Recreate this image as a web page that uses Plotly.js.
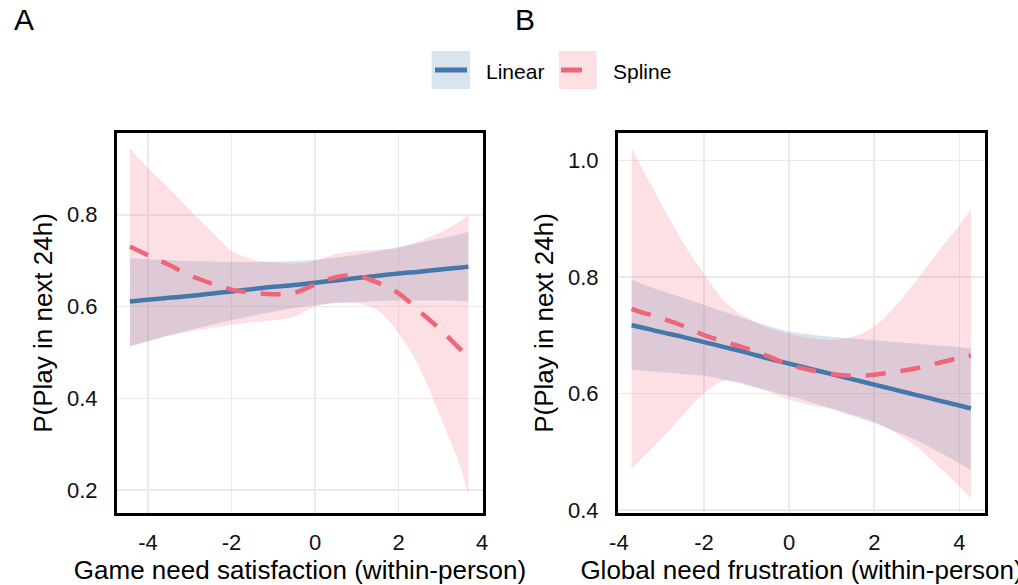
<!DOCTYPE html>
<html><head><meta charset="utf-8">
<script src="https://cdn.plot.ly/plotly-3.0.1.min.js"></script>
<style>html,body{margin:0;padding:0;background:#fff;} #chart{width:1018px;height:585px;}</style>
</head><body><div id="chart"></div>
<script>
// ---------- Panel A: Game need satisfaction ----------
const xA = [-4.43,-4,-3.5,-3,-2.5,-2,-1.5,-1,-0.5,0,0.5,1,1.5,2,2.5,3,3.5,3.67];
const linA      = [0.611,0.615,0.619,0.623,0.628,0.633,0.638,0.643,0.647,0.652,0.657,0.662,0.667,0.672,0.676,0.681,0.685,0.687];
const linA_hi   = [0.705,0.703,0.701,0.699,0.698,0.697,0.697,0.697,0.699,0.702,0.707,0.713,0.721,0.730,0.739,0.748,0.758,0.763];
const linA_lo   = [0.513,0.524,0.537,0.549,0.560,0.570,0.580,0.589,0.597,0.603,0.607,0.610,0.612,0.613,0.613,0.613,0.612,0.611];
const splA      = [0.731,0.712,0.691,0.668,0.651,0.637,0.630,0.627,0.630,0.648,0.664,0.667,0.652,0.629,0.590,0.550,0.505,0.491];
const splA_hi   = [0.945,0.902,0.858,0.810,0.765,0.722,0.703,0.697,0.694,0.700,0.715,0.721,0.724,0.727,0.742,0.762,0.787,0.800];
const splA_lo   = [0.515,0.525,0.537,0.546,0.553,0.560,0.566,0.570,0.578,0.600,0.609,0.607,0.592,0.542,0.467,0.360,0.245,0.186];

// ---------- Panel B: Global need frustration ----------
const xB = [-3.7,-3.5,-3,-2.5,-2,-1.5,-1,-0.5,0,0.5,1,1.5,2,2.5,3,3.5,4,4.27];
const linB      = [0.717,0.714,0.705,0.697,0.688,0.679,0.670,0.660,0.651,0.642,0.633,0.624,0.615,0.606,0.597,0.588,0.579,0.574];
const linB_hi   = [0.795,0.789,0.776,0.764,0.752,0.739,0.727,0.716,0.706,0.701,0.697,0.694,0.691,0.688,0.685,0.682,0.679,0.677];
const linB_lo   = [0.640,0.639,0.636,0.633,0.630,0.623,0.614,0.605,0.596,0.585,0.573,0.561,0.549,0.535,0.519,0.500,0.480,0.468];
const splB      = [0.745,0.740,0.729,0.716,0.700,0.688,0.677,0.664,0.649,0.640,0.633,0.630,0.632,0.637,0.643,0.652,0.661,0.665];
const splB_hi   = [1.021,0.993,0.925,0.860,0.805,0.757,0.730,0.713,0.702,0.695,0.692,0.697,0.715,0.750,0.795,0.843,0.889,0.915];
const splB_lo   = [0.470,0.485,0.522,0.562,0.600,0.622,0.616,0.603,0.589,0.580,0.574,0.563,0.551,0.532,0.508,0.475,0.440,0.420];

const ticksA_x = [-4,-2,0,2,4];
const ticksA_y = [0.2,0.4,0.6,0.8];
const ticksB_x = [-4,-2,0,2,4];
const ticksB_y = [0.4,0.6,0.8,1.0];
const seriesNames = ['Linear','Spline'];

const BLUE = '#4477AA', PINK = '#EE6677';
const BLUE_F = 'rgba(68,119,170,0.2)', PINK_F = 'rgba(238,102,119,0.2)';
const FONT = 'Liberation Sans, Arial, Helvetica, sans-serif';

function band(x, lo, hi, fill, xa, ya){
  return [
    {x:x, y:lo, xaxis:xa, yaxis:ya, type:'scatter', mode:'lines', line:{width:0, shape:'spline'}, hoverinfo:'skip', showlegend:false},
    {x:x, y:hi, xaxis:xa, yaxis:ya, type:'scatter', mode:'lines', line:{width:0, shape:'spline'}, fill:'tonexty', fillcolor:fill, hoverinfo:'skip', showlegend:false}
  ];
}
function line(x, y, color, dash, name, xa, ya){
  return {x:x, y:y, xaxis:xa, yaxis:ya, type:'scatter', mode:'lines', name:name,
    line:{color:color, width:4.5, dash:dash, shape:'spline'}, showlegend:false};
}

const traces = [].concat(
  band(xA, linA_lo, linA_hi, BLUE_F, 'x', 'y'),
  band(xA, splA_lo, splA_hi, PINK_F, 'x', 'y'),
  [line(xA, linA, BLUE, 'solid', seriesNames[0], 'x', 'y'),
   line(xA, splA, PINK, '20px,15px', seriesNames[1], 'x', 'y')],
  band(xB, linB_lo, linB_hi, BLUE_F, 'x2', 'y2'),
  band(xB, splB_lo, splB_hi, PINK_F, 'x2', 'y2'),
  [line(xB, linB, BLUE, 'solid', seriesNames[0], 'x2', 'y2'),
   line(xB, splB, PINK, '20px,15px', seriesNames[1], 'x2', 'y2')]
);

const W = 1018, H = 585;
const px = v => v / W, py = v => 1 - v / H;

function xax(domain, range, tickvals, title, anchor){
  return {domain:domain, range:range, tickvals:tickvals, ticktext:tickvals.map(String),
    anchor:anchor, showgrid:true, gridcolor:'#ebebeb', gridwidth:1.6, zeroline:false,
    showline:true, mirror:true, linecolor:'#000', linewidth:3,
    ticks:'outside', ticklen:8, tickcolor:'rgba(0,0,0,0)',
    tickfont:{family:FONT, size:22, color:'#111'},
    title:{text:title, font:{family:FONT, size:26, color:'#000'}, standoff:5}};
}
function yax(domain, range, tickvals, title, anchor){
  return {domain:domain, range:range, tickvals:tickvals, ticktext:tickvals.map(v=>v.toFixed(1)),
    anchor:anchor, showgrid:true, gridcolor:'#ebebeb', gridwidth:1.6, zeroline:false,
    showline:true, mirror:true, linecolor:'#000', linewidth:3,
    ticks:'outside', ticklen:12, tickcolor:'rgba(0,0,0,0)',
    tickfont:{family:FONT, size:22, color:'#111'},
    title:{text:title, font:{family:FONT, size:26, color:'#000'}, standoff:7}};
}

const yDom = [py(513), py(133)];
const layout = {
  width:W, height:H, margin:{l:0,r:0,t:0,b:0}, paper_bgcolor:'#fff', plot_bgcolor:'#fff',
  showlegend:false,
  xaxis: xax([px(117), px(483)], [-4.74, 4.02], ticksA_x, 'Game need satisfaction (within-person)', 'y'),
  yaxis: yax(yDom, [0.1505, 0.978], ticksA_y, 'P(Play in next 24h)', 'x'),
  xaxis2: xax([px(618), px(985)], [-4.02, 4.60], ticksB_x, 'Global need frustration (within-person)', 'y2'),
  yaxis2: yax(yDom, [0.3945, 1.047], ticksB_y, 'P(Play in next 24h)', 'x2'),
  shapes: [
    {type:'rect', xref:'paper', yref:'paper', x0:px(431.7), x1:px(470), y0:py(89), y1:py(51), fillcolor:BLUE_F, line:{width:0}, layer:'above'},
    {type:'line', xref:'paper', yref:'paper', x0:px(435), x1:px(467), y0:py(70), y1:py(70), line:{color:BLUE, width:5}},
    {type:'rect', xref:'paper', yref:'paper', x0:px(559), x1:px(596.7), y0:py(89), y1:py(51), fillcolor:PINK_F, line:{width:0}, layer:'above'},
    {type:'line', xref:'paper', yref:'paper', x0:px(561), x1:px(582), y0:py(70), y1:py(70), line:{color:PINK, width:5}}
  ],
  annotations: [
    {text:'A', xref:'paper', yref:'paper', x:px(12), y:py(20), xanchor:'left', yanchor:'middle', showarrow:false, font:{family:FONT, size:30, color:'#000'}},
    {text:'B', xref:'paper', yref:'paper', x:px(513), y:py(20), xanchor:'left', yanchor:'middle', showarrow:false, font:{family:FONT, size:30, color:'#000'}},
    {text:seriesNames[0], xref:'paper', yref:'paper', x:px(484), y:py(71), xanchor:'left', yanchor:'middle', showarrow:false, font:{family:FONT, size:21, color:'#000'}},
    {text:seriesNames[1], xref:'paper', yref:'paper', x:px(610.5), y:py(71), xanchor:'left', yanchor:'middle', showarrow:false, font:{family:FONT, size:21, color:'#000'}}
  ]
};

Plotly.newPlot('chart', traces, layout, {displayModeBar:false, staticPlot:true});
</script>
</body></html>
